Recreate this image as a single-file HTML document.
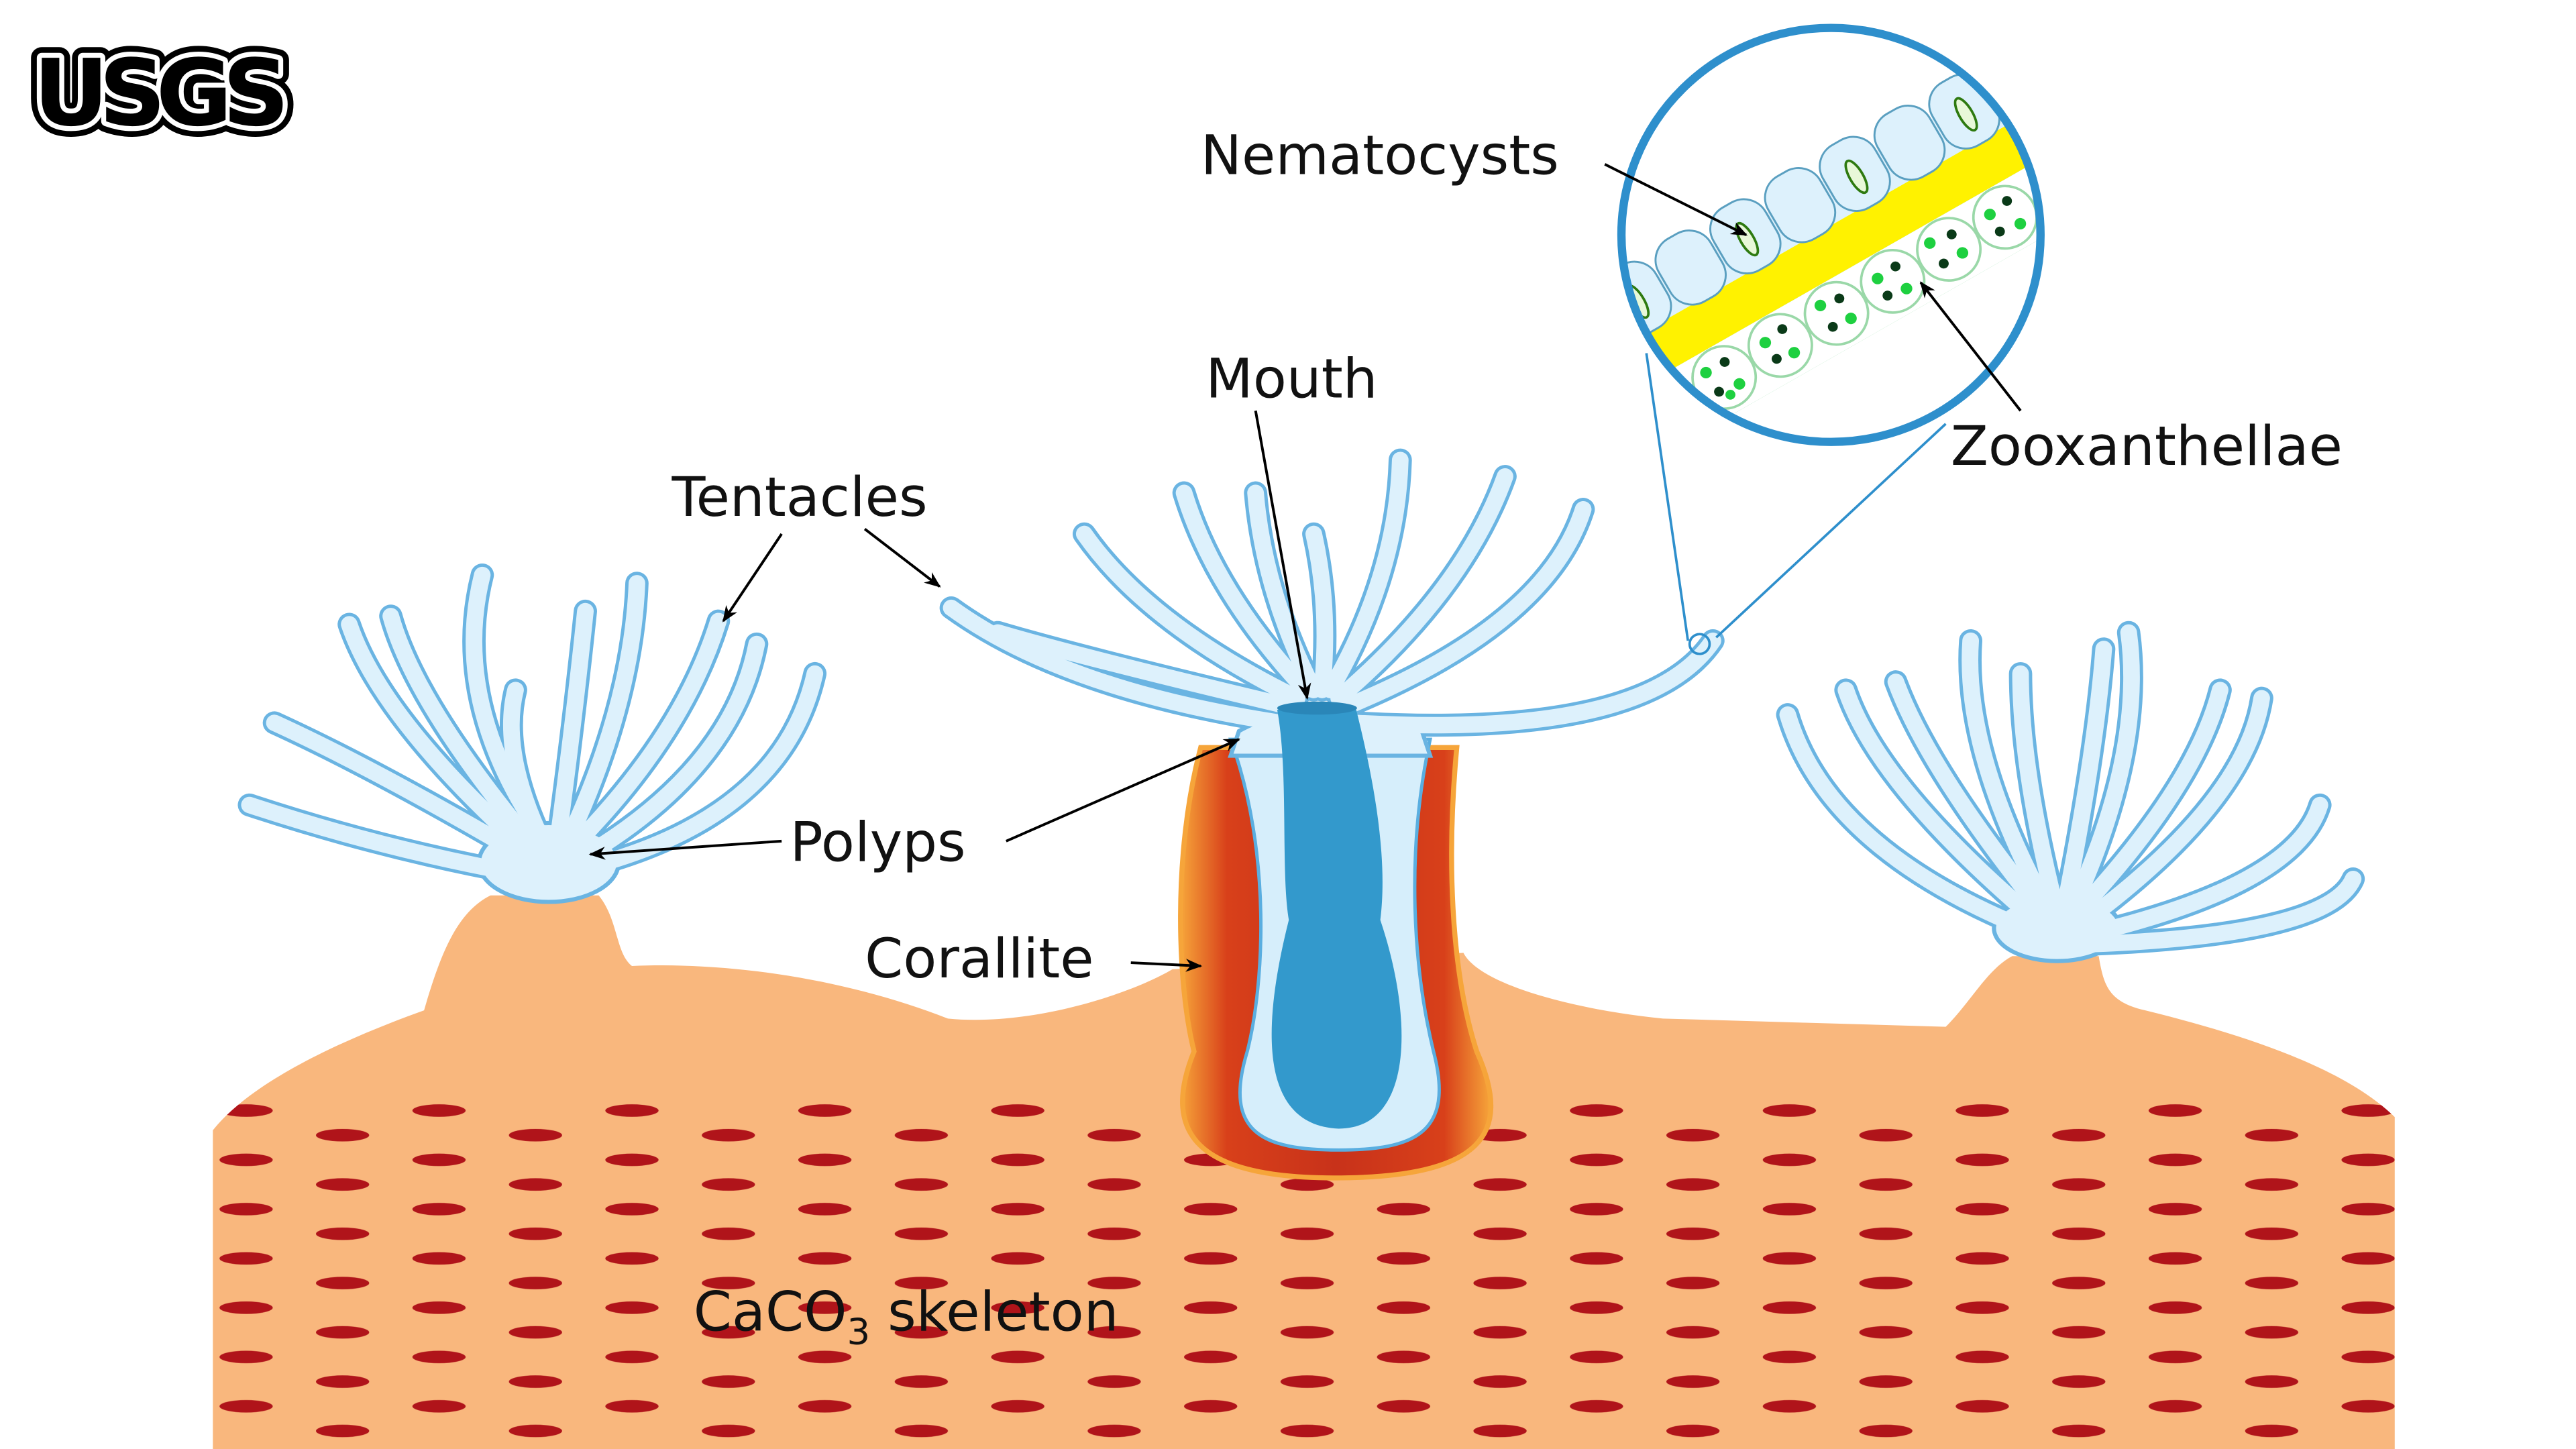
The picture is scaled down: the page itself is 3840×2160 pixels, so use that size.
<!DOCTYPE html>
<html><head><meta charset="utf-8"><style>html,body{margin:0;padding:0;background:#fff}svg{display:block}</style></head>
<body>
<svg width="3840" height="2160" viewBox="0 0 1549 882" preserveAspectRatio="none" xmlns="http://www.w3.org/2000/svg" font-family="'DejaVu Sans','Liberation Sans',sans-serif">
<defs>
<pattern id="dash" width="116" height="30" patternUnits="userSpaceOnUse" x="128" y="668">
<ellipse cx="20" cy="8" rx="16" ry="3.8" fill="#B0141A"/>
<ellipse cx="78" cy="23" rx="16" ry="3.8" fill="#B0141A"/>
</pattern>
<clipPath id="skel"><path d="M128,882 L128,688 C150,660 200,635 255,615 C265,580 275,555 295,545 L360,545 C372,560 370,580 380,588 C450,585 520,600 570,620 C620,625 680,605 705,590 L880,580 C890,600 950,615 1000,620 L1170,625 C1185,610 1195,590 1210,582 L1262,582 C1265,600 1268,610 1290,615 C1350,630 1410,650 1440,680 L1440,882 Z"/></clipPath>
<clipPath id="circ"><circle cx="1101" cy="143" r="126"/></clipPath>
<linearGradient id="cg" x1="0" x2="1" y1="0" y2="0">
<stop offset="0" stop-color="#F6A53A"/><stop offset="0.15" stop-color="#D8401A"/><stop offset="0.5" stop-color="#C8321A"/><stop offset="0.85" stop-color="#D8401A"/><stop offset="1" stop-color="#F6A53A"/>
</linearGradient>
<marker id="ar" markerWidth="10" markerHeight="8" refX="9" refY="4" orient="auto" markerUnits="userSpaceOnUse"><path d="M0,0 L10,4 L0,8 L3,4 Z" fill="#000"/></marker>
<g id="tp">
<path d="M330,535 Q240,520 150,490"/><path d="M330,530 Q230,470 165,440"/><path d="M325,525 Q230,440 210,380"/><path d="M325,520 Q250,430 235,375"/><path d="M330,515 Q270,430 290,350"/><path d="M330,520 Q300,460 310,420"/><path d="M335,515 Q345,440 352,372"/><path d="M340,515 Q380,430 383,355"/><path d="M340,520 Q410,450 432,378"/><path d="M345,525 Q440,470 455,392"/><path d="M345,530 Q470,500 490,410"/>
<path d="M770,440 Q640,420 572,370"/><path d="M775,430 Q650,400 600,385"/><path d="M780,425 Q690,380 652,325"/><path d="M785,420 Q730,360 712,300"/><path d="M790,420 Q760,360 755,300"/><path d="M795,420 Q800,370 790,325"/><path d="M800,420 Q840,350 842,280"/><path d="M805,425 Q880,360 905,290"/><path d="M810,430 Q930,380 952,310"/><path d="M815,440 Q990,450 1030,390"/>
<path d="M1230,570 Q1100,520 1075,435"/><path d="M1230,565 Q1130,480 1110,420"/><path d="M1232,560 Q1160,470 1140,415"/><path d="M1235,560 Q1180,460 1185,390"/><path d="M1238,560 Q1215,470 1215,410"/><path d="M1240,560 Q1260,460 1265,395"/><path d="M1243,560 Q1290,460 1280,385"/><path d="M1245,560 Q1320,480 1335,420"/><path d="M1248,565 Q1350,490 1360,425"/><path d="M1250,570 Q1380,540 1395,490"/><path d="M1250,575 Q1400,570 1415,535"/>
</g>
</defs>
<rect width="1549" height="882" fill="#fff"/>
<path d="M128,882 L128,688 C150,660 200,635 255,615 C265,580 275,555 295,545 L360,545 C372,560 370,580 380,588 C450,585 520,600 570,620 C620,625 680,605 705,590 L880,580 C890,600 950,615 1000,620 L1170,625 C1185,610 1195,590 1210,582 L1262,582 C1265,600 1268,610 1290,615 C1350,630 1410,650 1440,680 L1440,882 Z" fill="#F9B77D"/>
<rect x="128" y="668" width="1312" height="214" fill="url(#dash)" clip-path="url(#skel)"/>
<path d="M722,455 C705,520 708,600 718,640 C698,690 720,717 802,717 C892,717 910,690 888,640 C872,590 870,520 876,455 Z" fill="url(#cg)" stroke="#F6A53A" stroke-width="3"/>
<path d="M740,450 C765,520 760,600 750,640 C735,690 760,700 805,700 C850,700 875,690 862,640 C850,590 845,520 860,450 Z" fill="#D6EEFB" stroke="#5AAEE0" stroke-width="2"/>
<g fill="none" stroke-linecap="round">
<use href="#tp" stroke="#6AB4E2" stroke-width="14"/>
<ellipse cx="330" cy="525" rx="42" ry="24" fill="#DDF1FC" stroke="#6AB4E2" stroke-width="2.5"/>
<ellipse cx="1237" cy="565" rx="38" ry="20" fill="#DDF1FC" stroke="#6AB4E2" stroke-width="2.5"/>
<path d="M745,445 Q790,420 855,445 L860,460 L740,460 Z" fill="#DDF1FC" stroke="#6AB4E2" stroke-width="2.5"/>
<use href="#tp" stroke="#DDF1FC" stroke-width="10"/>
</g>
<path d="M768,432 C775,470 770,530 775,560 C760,620 755,685 805,687 C850,687 850,620 830,560 C835,520 825,470 815,430 Z" fill="#3399CC"/>
<ellipse cx="792" cy="431" rx="24" ry="4" fill="#2A86B8"/>
<line x1="990" y1="215" x2="1015" y2="390" stroke="#2E8FCC" stroke-width="1.5"/>
<line x1="1170" y1="258" x2="1032" y2="388" stroke="#2E8FCC" stroke-width="1.5"/>
<circle cx="1022" cy="392" r="6" fill="none" stroke="#2E8FCC" stroke-width="1.5"/>
<circle cx="1101" cy="143" r="126" fill="#fff"/>
<g clip-path="url(#circ)">
<g transform="rotate(-30 1101 143)">
<rect x="940" y="112" width="340" height="30" fill="#DDF1FC"/>
<rect x="940" y="138" width="340" height="28" fill="#FFF200"/>
<rect x="940" y="166" width="340" height="42" fill="#3CC060"/>
<rect x="975" y="166" width="250" height="42" fill="#fff"/>
<g fill="#DDF1FC" stroke="#5A9FC0" stroke-width="1.2">
<rect x="962" y="96" width="36" height="44" rx="15"/><rect x="1000" y="96" width="36" height="44" rx="15"/><rect x="1038" y="96" width="36" height="44" rx="15"/><rect x="1076" y="96" width="36" height="44" rx="15"/><rect x="1114" y="96" width="36" height="44" rx="15"/><rect x="1152" y="96" width="36" height="44" rx="15"/><rect x="1190" y="96" width="36" height="44" rx="15"/><rect x="1228" y="96" width="36" height="44" rx="15"/>
</g>
<g fill="#E8F8D8" stroke="#2E7A10" stroke-width="1.5">
<ellipse cx="980" cy="120" rx="4" ry="11"/><ellipse cx="1056" cy="120" rx="4" ry="11"/><ellipse cx="1132" cy="120" rx="4" ry="11"/><ellipse cx="1208" cy="120" rx="4" ry="11"/>
</g>
<g fill="#fff" stroke="#9AD8A8" stroke-width="1.5">
<circle cx="1002" cy="186" r="19"/><circle cx="1041" cy="186" r="19"/><circle cx="1080" cy="186" r="19"/><circle cx="1119" cy="186" r="19"/><circle cx="1158" cy="186" r="19"/><circle cx="1197" cy="186" r="19"/>
</g>
<g fill="#1ED040">
<circle cx="994" cy="178" r="3.5"/><circle cx="1008" cy="194" r="3.5"/><circle cx="1000" cy="197" r="3"/><circle cx="1034" cy="180" r="3.5"/><circle cx="1046" cy="194" r="3.5"/><circle cx="1074" cy="177" r="3.5"/><circle cx="1086" cy="193" r="3.5"/><circle cx="1112" cy="180" r="3.5"/><circle cx="1124" cy="194" r="3.5"/><circle cx="1150" cy="177" r="3.5"/><circle cx="1164" cy="192" r="3.5"/><circle cx="1190" cy="180" r="3.5"/><circle cx="1203" cy="194" r="3.5"/>
</g>
<g fill="#0A3A18">
<circle cx="1007" cy="178" r="3"/><circle cx="995" cy="192" r="3"/><circle cx="1047" cy="178" r="3"/><circle cx="1035" cy="192" r="3"/><circle cx="1086" cy="179" r="3"/><circle cx="1074" cy="192" r="3"/><circle cx="1125" cy="179" r="3"/><circle cx="1112" cy="192" r="3"/><circle cx="1164" cy="179" r="3"/><circle cx="1151" cy="192" r="3"/><circle cx="1203" cy="178" r="3"/><circle cx="1190" cy="192" r="3"/>
</g>
</g>
</g>
<circle cx="1101" cy="143" r="126" fill="none" stroke="#2E8FCC" stroke-width="5"/>
<g stroke="#000" stroke-width="1.6" marker-end="url(#ar)">
<line x1="965" y1="100" x2="1050" y2="143"/>
<line x1="1215" y1="250" x2="1155" y2="172"/>
<line x1="755" y1="250" x2="786" y2="425"/>
<line x1="470" y1="325" x2="435" y2="378"/>
<line x1="520" y1="322" x2="565" y2="357"/>
<line x1="470" y1="512" x2="355" y2="520"/>
<line x1="605" y1="512" x2="745" y2="450"/>
<line x1="680" y1="586" x2="722" y2="588"/>
</g>
<g font-size="33" fill="#111">
<text x="722" y="106">Nematocysts</text>
<text x="1173" y="283">Zooxanthellae</text>
<text x="725" y="242">Mouth</text>
<text x="404" y="314">Tentacles</text>
<text x="475" y="524">Polyps</text>
<text x="520" y="595">Corallite</text>
<text x="417" y="810">CaCO<tspan font-size="22" dy="8">3</tspan><tspan dy="-8"> skeleton</tspan></text>
</g>
<g font-weight="bold" font-size="56" letter-spacing="-6">
<text x="20" y="76" fill="#000" stroke="#000" stroke-width="13" stroke-linejoin="round">USGS</text>
<text x="20" y="76" fill="#000" stroke="#fff" stroke-width="6" stroke-linejoin="round">USGS</text>
<text x="20" y="76" fill="#000">USGS</text>
</g>
</svg>
</body></html>
